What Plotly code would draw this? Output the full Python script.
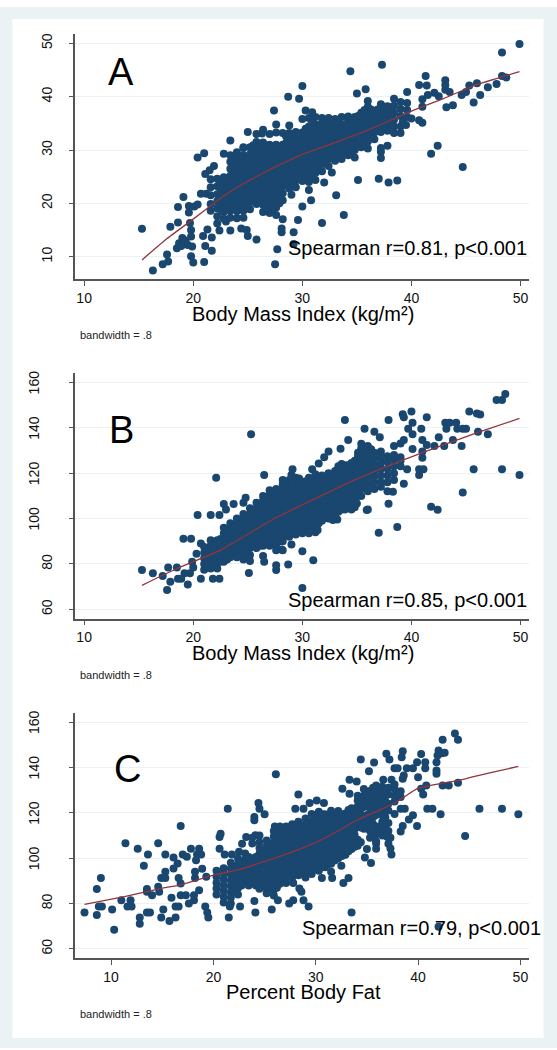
import plotly.graph_objects as go

W, H = 557, 1050
NAVY = "#1a476f"
CRAN = "#90353b"
BAND = "#eaf2f3"
FONT = "Liberation Sans, Arial, sans-serif"

# ---------- Panel A: BMI vs percent body fat ----------
A_edge_x = [15.3,16.3,17.2,17.7,17.6,17.9,18.6,18.6,19.1,18.5,18.7,19.2,19.5,19.7,19.8,19.8,19.8,20.0,19.6,19.6,
            20.4,21.0,21.0,21.7,21.1,20.9,21.7,21.3,22.4,23.4,23.4,25.0,25.8,25.0,24.4,27.5,27.7,28.1,28.1,29.2,
            29.2,28.2,29.6,29.0,30.0,30.8,30.6,31.8,33.8,33.1,32.0,32.7,35.1,37.0,37.9,38.7,44.7,41.8,42.4,49.9,
            48.3,37.3,34.4,30.0,28.7,29.7,27.4,27.6,35.0,35.8,39.6,41.3,40.7,41.4,43.1,43.1,43.1,48.3,48.7,47.8,
            47.0,46.0,45.3,46.3,45.7,44.6,45.0,43.8,43.2,43.5,42.1,42.5,41.5,41.0,41.0,41.0,40.7,40.0,20.1,20.7,
            21.2,19.3,19.0,18.9,19.9,21.5,21.9,21.1,20.4,24.1,24.6,24.9,23.0,22.9,39.2,39.5,30.3,30.9,26.3]
A_edge_y = [15.25,7.4,8.6,9.1,10.4,15.6,16.4,19.3,21.2,11.6,12.5,13.1,12.2,16.3,15.0,13.8,10.1,8.9,18.3,19.5,
            28.6,29.4,9.0,11.1,12.0,13.9,13.6,15.1,14.9,14.9,31.8,33.4,13.2,13.9,15.3,8.6,11.4,15.3,14.6,14.6,
            12.4,17.0,16.9,21.6,19.4,20.6,22.5,16.3,17.8,21.5,23.9,25.8,24.4,24.6,23.9,24.3,26.8,29.3,30.8,49.9,
            48.3,46.0,44.75,42.0,40.0,39.6,37.4,34.8,40.6,41.4,40.9,43.9,42.2,42.1,43.1,42.2,41.3,43.9,43.6,42.4,
            41.75,42.5,42.1,40.3,38.9,40.3,40.9,38.4,38.0,40.9,40.75,40.1,40.3,39.5,38.1,35.1,35.6,35.9,19.4,21.8,
            21.8,12.9,13.5,12.0,11.9,26.2,27.0,25.5,19.8,27.9,30.5,15.0,16.6,19.0,35.2,34.7,37.4,37.1,33.1]

A_col_x = [21.6,22.2,22.8,23.4,24.0,24.6,25.2,25.8,26.4,27.0,27.6,28.2,28.8,29.4,30.0,30.6,31.2,31.8,32.4,33.0,
           33.6,34.2,34.8,35.4,36.0,36.6,37.2,37.8,38.4,39.0,39.6]
A_col_y = [
    [18.6,19.9,21.5,23.0,24.5],
    [16.2,17.6,19.1,20.4,21.7,23.2,24.6],
    [17.1,18.4,19.7,21.0,22.3,23.6,24.9,29.3],
    [17.3,18.6,20.0,21.3,22.6,23.9,25.2,26.5,27.8,29.0],
    [17.2,18.5,19.7,21.0,22.3,23.6,24.9,26.2,27.5,28.8,29.6],
    [17.3,18.6,19.9,21.2,22.5,23.8,25.1,26.4,27.7,29.0,30.4],
    [18.9,20.2,21.5,22.8,24.0,25.3,26.6,27.9,29.2,30.5],
    [19.9,21.2,22.5,23.7,25.0,26.3,27.6,28.9,30.2,31.5,33.0],
    [18.4,19.7,21.0,22.3,23.6,24.9,26.2,27.5,28.8,30.1,31.4,33.8],
    [18.2,19.5,20.8,22.1,23.4,24.7,26.0,27.3,28.6,29.9,31.0,33.0],
    [17.8,19.2,20.6,21.9,23.2,24.5,25.8,27.1,28.4,29.7,31.0,33.3],
    [20.6,21.9,23.2,24.5,25.8,27.1,28.4,29.7,31.0,33.2],
    [22.8,24.1,25.4,26.7,28.0,29.3,30.6,31.9,33.2,34.6],
    [23.0,24.3,25.6,26.9,28.2,29.5,30.8,32.1,33.4],
    [24.2,25.5,26.8,28.1,29.4,30.7,32.0,33.3,35.8],
    [24.0,25.3,26.6,27.9,29.2,30.5,31.8,33.1,34.4,36.0],
    [24.4,25.7,27.0,28.3,29.6,30.9,32.2,33.5,34.8,36.2],
    [26.0,27.3,28.6,29.9,31.2,32.5,33.8,35.1,36.0],
    [27.0,28.3,29.6,30.9,32.2,33.5,34.8,36.0],
    [28.0,29.3,30.6,31.9,33.2,34.5,35.8],
    [28.3,29.6,30.9,32.2,33.5,34.8,36.2],
    [29.0,30.3,31.6,32.9,34.2,35.5,36.3],
    [28.6,30.0,31.3,32.6,33.9,35.2,36.2],
    [30.5,31.8,33.1,34.4,35.7,37.0],
    [30.3,31.6,32.9,34.2,35.5,36.8,38.1,39.2],
    [32.0,33.3,34.6,35.9,37.2],
    [28.5,29.7,30.4,33.4,34.7,36.0,37.3,38.6],
    [30.8,33.6,34.9,36.2,37.5,38.2],
    [33.2,34.4,35.7,37.0,38.3,39.6],
    [33.2,34.4,36.4,37.7,39.0],
    [36.2,37.5,38.8],
]
A_mid_x = [22.5,23.1,23.7,24.3,24.9,25.5,26.1,26.7,27.3,27.9,28.5,29.1,29.7,30.3,30.9,31.5,32.1,32.7,33.3,33.9,
           34.5,35.1,35.7,36.3,36.9,37.5,38.1]
A_mid_y = [
    [18.9,20.2,21.5,22.8,24.1],
    [18.9,20.2,21.5,22.8,24.1],
    [19.1,20.4,21.7,23.0,24.3,25.6,26.9,28.2],
    [19.1,20.4,21.7,23.0,24.3,25.6,26.9,28.2],
    [19.6,20.9,22.2,23.5,24.8,26.1,27.4,28.7],
    [20.6,21.9,23.2,24.4,25.7,27.0,28.3,29.6,30.9],
    [20.6,21.9,23.1,24.4,25.7,27.0,28.3,29.6,30.9],
    [19.1,20.4,21.7,23.0,24.3,25.6,26.9,28.2,29.5,30.8],
    [18.9,20.2,21.5,22.8,24.1,25.4,26.7,28.0,29.3,30.6],
    [20.0,21.3,22.6,23.9,25.2,26.5,27.8,29.1,30.4],
    [23.5,24.8,26.1,27.4,28.7,30.0,31.3,32.6],
    [23.7,25.0,26.3,27.6,28.9,30.2,31.5,32.8],
    [24.9,26.2,27.5,28.8,30.1,31.4,32.7],
    [24.9,26.2,27.5,28.8,30.1,31.4,32.7,34.0],
    [25.0,26.3,27.6,28.9,30.2,31.5,32.8,34.1,35.3],
    [26.6,27.9,29.2,30.5,31.8,33.1,34.4],
    [27.7,29.0,30.3,31.6,32.9,34.2,35.4],
    [28.6,29.9,31.2,32.5,33.8,35.1],
    [28.9,30.2,31.5,32.8,34.1,35.4],
    [29.6,30.9,32.2,33.5,34.8],
    [29.6,30.9,32.2,33.5,34.8,35.8],
    [31.2,32.5,33.8,35.1,36.4],
    [31.1,32.4,33.7,35.0,36.3,37.5],
    [32.6,33.9,35.2,36.5,37.6],
    [33.7,35.0,36.3,37.6],
    [34.2,35.5,36.8,38.0],
    [34.1,35.4,36.7,38.0],
]
A_fit_x = [15.3,17.6,19.9,21.8,23.1,24.8,26.4,28.4,30.4,33.0,35.6,38.8,40.1,43.0,45.9,49.9]
A_fit_y = [9.4,13.4,16.9,19.9,21.8,23.9,25.7,27.7,29.5,31.4,33.4,36.2,37.4,39.7,42.2,44.7]

# ---------- Panel B: BMI vs waist ----------
B_edge_x = [15.3,16.3,17.2,17.6,17.9,17.7,18.5,18.6,18.9,19.5,19.2,19.7,20.0,19.1,19.8,20.4,21.6,22.4,22.1,20.7,
            21.8,22.4,22.8,23.0,23.7,24.6,24.8,25.3,26.5,25.1,25.2,25.2,26.4,26.5,27.6,27.6,28.7,28.1,29.0,30.0,
            31.0,30.0,31.4,29.1,29.0,29.7,30.9,31.5,32.0,32.4,33.5,33.9,34.2,35.7,36.6,37.1,37.9,39.2,39.3,40.0,
            40.1,39.7,40.1,40.9,41.4,40.1,39.3,39.0,38.4,41.0,41.4,41.0,41.0,42.1,42.5,43.0,43.1,43.5,43.2,44.1,
            44.2,44.7,45.0,43.8,44.6,45.3,46.0,46.3,46.1,47.0,47.8,48.3,48.6,45.7,48.3,49.9,44.7,41.8,42.4,37.0,
            38.7,37.9,39.3,38.3,39.6,40.7,40.7,41.1,36.0,35.9,35.0,34.5,33.9,33.2,32.8,20.3,20.7,19.9]
B_edge_y = [77.3,75.9,74.7,68.5,72.2,78.5,78.5,73.5,73.5,71.0,75.9,75.9,78.5,91.1,91.1,101.6,101.6,101.6,118.0,73.5,
            73.5,73.5,106.4,104.0,106.4,107.0,109.2,137.1,119.2,76.0,81.3,84.0,83.5,81.0,79.5,77.3,79.8,86.4,88.6,85.6,
            81.6,69.4,95.0,121.7,119.2,117.7,121.7,124.3,127.0,129.5,130.8,143.4,134.6,139.6,138.3,135.8,143.4,146.0,144.6,147.2,
            142.2,139.6,137.1,139.6,144.6,130.6,134.6,133.1,132.0,134.6,132.4,129.5,126.8,132.0,135.8,132.0,142.2,142.2,139.6,142.2,
            139.6,139.6,139.6,134.6,132.0,147.2,146.3,145.9,138.3,137.1,152.2,152.2,154.9,121.7,121.7,119.2,111.5,105.2,103.9,93.8,
            96.3,106.5,115.4,111.8,121.7,119.2,121.7,121.7,104.0,103.8,106.7,104.0,104.0,99.6,99.4,84.5,89.0,81.0]

B_col_x = [21.0,21.6,22.2,22.8,23.4,24.0,24.6,25.2,25.8,26.4,27.0,27.6,28.2,28.8,29.4,30.0,30.6,31.2,31.8,32.4,
           33.0,33.6,34.2,34.8,35.4,36.0,36.6,37.2,37.8,38.4,39.0]
B_col_y = [
    [77.5,80.0,82.5,85.0,87.5],
    [78.0,80.5,83.0,85.5,88.0,90.5],
    [78.0,80.5,83.0,85.5,88.0,90.5],
    [81.0,83.5,86.0,88.5,91.0,93.5,96.0],
    [83.0,85.5,88.0,90.5,93.0,95.5,98.0],
    [83.0,85.5,88.0,90.5,93.0,95.5,98.0,100.0],
    [82.0,84.5,87.0,89.5,92.0,94.5,97.0,99.5,102.0],
    [87.0,89.5,92.0,94.5,97.0,99.5,102.0,104.5],
    [87.0,89.5,92.0,94.5,97.0,99.5,102.0,104.5,107.0],
    [88.0,90.5,93.0,95.5,98.0,100.5,103.0,105.5,108.0,110.0],
    [88.0,90.5,93.0,95.5,98.0,100.5,103.0,105.5,108.0,110.5,112.5],
    [86.0,88.5,91.0,93.5,96.0,98.5,101.0,103.5,106.0,108.5,111.0,113.0],
    [86.0,90.0,92.5,95.0,97.5,100.0,102.5,105.0,107.5,110.0,112.5,115.0,117.0],
    [92.0,94.5,97.0,99.5,102.0,104.5,107.0,109.5,112.0,114.5,117.0],
    [93.0,95.5,98.0,100.5,103.0,105.5,108.0,110.5,113.0,115.5,118.0],
    [93.5,96.0,98.5,101.0,103.5,106.0,108.5,111.0,113.5,116.0],
    [93.5,96.0,98.5,101.0,103.5,106.0,108.5,111.0,113.5,116.0,118.0],
    [94.0,97.0,99.5,102.0,104.5,107.0,109.5,112.0,114.5,117.0,119.5],
    [99.0,101.5,104.0,106.5,109.0,111.5,114.0,116.5,119.0],
    [100.0,102.5,105.0,107.5,110.0,112.5,115.0,117.5,120.0],
    [101.0,103.5,106.0,108.5,111.0,113.5,116.0,118.5,121.0],
    [104.0,106.5,109.0,111.5,114.0,116.5,119.0,121.5,124.0],
    [106.0,108.5,111.0,113.5,116.0,118.5,121.0,123.5],
    [105.0,108.0,110.5,113.0,115.5,118.0,120.5,123.0,125.5],
    [110.0,113.0,116.0,118.5,121.0,123.5,126.0,128.5,131.0,133.0],
    [112.0,118.0,122.0,125.0,127.5,130.0,132.0],
    [113.0,116.0,118.5,121.0,123.5,126.5,129.0],
    [114.0,116.0,119.0,122.0,124.5,127.0,129.5],
    [112.0,116.0,119.0,122.0,125.0,127.5],
    [117.0,120.0,123.0,126.0,128.0],
    [123.0,125.5,127.0],
]
B_mid_x = [21.3,21.9,22.5,23.1,23.7,24.3,24.9,25.5,26.1,26.7,27.3,27.9,28.5,29.1,29.7,30.3,30.9,31.5,32.1,32.7,
           33.3,33.9,34.5,35.1,35.7,36.3]
B_mid_y = [
    [79.0,81.5,84.0,86.5],
    [79.0,81.5,84.0,86.5,89.0],
    [81.0,83.5,86.0,88.5,91.0],
    [82.0,84.5,87.0,89.5,92.0,94.5],
    [84.0,86.5,89.0,91.5,94.0,96.5],
    [84.0,86.5,89.0,91.5,94.0,96.5,99.0],
    [85.5,88.0,90.5,93.0,95.5,98.0,100.5],
    [88.0,90.5,93.0,95.5,98.0,100.5,103.0],
    [88.0,90.5,93.0,95.5,98.0,100.5,103.0,105.5],
    [89.0,91.5,94.0,96.5,99.0,101.5,104.0,106.5,109.0],
    [89.0,91.5,94.0,96.5,99.0,101.5,104.0,106.5,109.0,111.5],
    [90.0,92.5,95.0,97.5,100.0,102.5,105.0,107.5,110.0,112.5],
    [93.0,95.5,98.0,100.5,103.0,105.5,108.0,110.5,113.0,115.5],
    [94.0,96.5,99.0,101.5,104.0,106.5,109.0,111.5,114.0,116.5],
    [94.5,97.0,99.5,102.0,104.5,107.0,109.5,112.0,114.5,117.0],
    [94.5,97.0,99.5,102.0,104.5,107.0,109.5,112.0,114.5,116.5],
    [95.0,97.5,100.0,102.5,105.0,107.5,110.0,112.5,115.0,117.5],
    [98.0,100.5,103.0,105.5,108.0,110.5,113.0,115.5,118.0],
    [100.5,103.0,105.5,108.0,110.5,113.0,115.5,118.0],
    [102.0,104.5,107.0,109.5,112.0,114.5,117.0,119.5],
    [103.0,105.5,108.0,110.5,113.0,115.5,118.0,120.5,123.0],
    [106.0,108.5,111.0,113.5,116.0,118.5,121.0,123.5],
    [107.0,109.5,112.0,114.5,117.0,119.5,122.0,124.5],
    [110.0,112.5,115.0,117.5,120.0,122.5,125.0,127.5,129.0],
    [114.0,116.5,119.0,121.0,123.5,126.0,128.5,131.0],
    [115.0,120.0,123.0,125.5,128.0,130.5],
]
B_fit_x = [15.3,18.5,22.5,27.35,34.4,38.8,43.0,46.3,49.9]
B_fit_y = [70.6,78.0,86.1,99.8,116.2,125.0,132.6,138.3,144.1]

# ---------- Panel C: percent body fat vs waist ----------
C_edge_x = [7.4,8.6,8.6,9.0,8.8,9.1,10.1,10.3,11.0,11.4,11.9,11.6,12.0,12.6,12.8,12.8,13.2,13.6,13.5,13.5,
            14.0,13.5,13.8,14.6,14.6,14.9,14.9,15.1,15.3,15.3,15.7,15.3,14.7,15.9,16.1,16.1,16.3,16.5,16.6,16.3,
            16.6,16.8,17.0,17.4,17.8,16.8,16.8,17.3,17.6,18.2,18.2,18.1,18.1,18.3,18.4,18.6,18.8,18.9,18.6,19.2,
            19.4,19.5,19.3,20.6,20.6,20.7,21.4,21.5,21.1,21.8,22.5,24.0,24.1,22.6,21.6,25.7,26.3,27.4,27.8,28.8,
            29.3,33.5,42.0,28.6,28.4,27.1,27.8,30.6,31.6,32.7,33.2,32.5,35.4,34.8,37.4,35.9,37.3,37.1,39.9,44.6,
            38.5,38.3,39.1,39.5,42.2,40.9,41.4,46.0,48.2,49.8,38.7,38.3,43.9,43.0,42.4,40.5,40.3,40.8,40.0,41.8,
            41.8,40.7,40.7,41.8,39.9,39.5,38.9,37.7,38.0,38.5,38.6,37.4,36.6,35.2,34.4,35.7,37.2,36.9,38.4,38.5,
            40.3,41.9,42.0,42.3,42.6,42.4,43.6,43.9,26.1,33.3,34.0,32.6,33.3,28.3,24.4,24.5,25.0,24.0,24.0,28.0,
            28.8,29.4,30.1,30.8,26.0,24.1,23.2,22.8,35.9,37.3,37.0,35.0]
C_edge_y = [76.1,74.9,86.4,91.3,78.7,78.7,77.4,68.5,81.4,106.6,81.4,78.7,78.7,104.1,73.8,71.1,96.6,101.6,86.4,85.2,
            83.7,76.1,76.1,106.6,87.4,91.3,73.8,77.4,94.0,101.6,72.3,91.3,85.2,82.5,100.3,95.4,78.7,97.6,91.3,73.8,
            78.7,114.2,101.6,100.6,104.1,88.8,83.7,83.7,80.0,94.0,91.3,81.5,83.7,99.1,101.6,104.1,101.6,95.3,85.9,78.7,
            76.1,73.8,91.8,104.1,109.3,110.8,121.8,73.8,101.6,101.6,102.8,81.1,76.1,78.7,78.7,77.4,81.5,80.0,81.5,81.4,
            78.7,76.1,69.8,85.2,86.6,89.1,89.1,91.3,91.3,89.1,91.3,96.6,97.9,100.3,101.6,104.1,104.2,106.4,114.2,109.8,
            114.2,111.8,117.0,118.9,119.3,121.8,121.8,121.8,121.8,119.3,121.8,121.8,133.2,132.0,132.0,128.1,130.6,132.0,135.7,137.2,
            138.6,139.6,142.3,142.3,142.3,139.6,139.6,139.6,139.6,135.0,136.4,134.5,134.5,138.3,143.5,142.1,143.5,146.0,144.5,147.1,
            145.9,145.2,147.4,146.2,146.4,152.2,154.9,152.2,137.0,134.5,133.8,130.6,128.4,128.1,124.3,121.8,119.3,118.1,116.7,121.8,
            121.8,124.3,125.4,124.3,114.0,110.1,109.3,106.4,106.5,109.0,109.3,104.0]

C_col_x = [20.3,21.0,21.7,22.4,23.1,23.8,24.5,25.2,25.9,26.5,27.1,27.7,28.3,29.0,29.6,30.3,30.9,31.5,32.2,32.9,
           33.5,34.1,34.7,35.3,35.9,36.5,37.1,37.7,38.3]
C_col_y = [
    [84.0,86.6,89.2,91.8,94.4],
    [80.5,83.0,85.6,88.2,90.8,93.4,95.6],
    [80.0,82.5,85.0,87.6,90.2,92.8,95.4,98.0],
    [84.0,86.8,89.4,92.0,94.6,97.2,99.8],
    [89.0,91.6,94.2,96.8,99.4,102.0],
    [89.5,92.0,94.6,97.2,99.8,106.5,109.0],
    [86.5,89.1,91.7,94.3,96.9,99.5,102.0,104.5,107.0,110.0],
    [84.5,87.0,89.6,92.2,94.8,97.4,100.0,102.6,105.2,107.8],
    [83.5,86.1,88.7,91.3,93.9,96.5,99.1,101.7,104.3,106.9,109.5,112.0],
    [88.7,91.3,93.9,96.5,99.1,101.7,104.3,106.9,109.5,112.1,114.0],
    [91.0,93.6,96.2,98.8,101.4,104.0,106.6,109.2,111.8,114.0],
    [91.5,94.1,96.7,99.3,101.9,104.5,107.1,109.7,112.3,114.9],
    [92.5,95.1,97.7,100.3,102.9,105.5,108.1,110.7,113.3,116.0],
    [91.5,94.1,96.7,99.3,101.9,104.5,107.1,109.7,112.3,114.9,117.5],
    [93.0,95.6,98.2,100.8,103.4,106.0,108.6,111.2,113.8,116.4,119.5],
    [94.5,97.1,99.7,102.3,104.9,107.5,110.1,112.7,115.3,117.9,120.5],
    [96.0,98.6,101.2,103.8,106.4,109.0,111.6,114.2,116.8,119.4],
    [94.0,97.5,100.1,102.7,105.3,107.9,110.5,113.1,115.7,118.3,120.9],
    [100.0,102.6,105.2,107.8,110.4,113.0,115.6,118.2,120.8],
    [101.5,104.1,106.7,109.3,111.9,114.5,117.1,119.7],
    [104.0,106.6,109.2,111.8,114.4,117.0,119.6,122.0],
    [105.5,108.1,115.0,117.6,120.2,122.8,125.4,127.5],
    [113.0,115.5,118.0,122.5,125.0,127.5,130.5],
    [109.0,112.0,117.0,120.0,124.5,127.0,129.6],
    [107.5,110.5,113.5,119.0,122.5,125.0,127.6,130.0,132.0],
    [110.0,116.0,119.0,121.5,124.0,126.5,129.0,131.5],
    [112.0,115.5,121.0,124.0,128.0,131.0],
    [119.5,125.0,127.5,130.5,132.5],
    [127.0,129.5],
]
C_mid_x = [22.05,22.75,23.45,24.15,24.85,25.55,26.2,26.8,27.4,28.0,28.65,29.3,29.95,30.6,31.2,31.85,32.55,33.2,33.8,
           34.4,35.0,35.6,36.2,36.8]
C_mid_y = [
    [85.5,88.0,90.7,93.3,96.0],
    [88.0,90.5,93.0,95.5,98.0],
    [88.0,90.5,93.0,95.5,98.0,100.5],
    [88.0,90.5,93.0,95.5,98.0,100.5],
    [87.5,90.4,93.0,95.6,98.2,100.8,103.3],
    [86.5,88.3,90.9,93.5,96.1,98.7,101.3,103.9,106.5],
    [87.0,90.0,92.6,95.2,97.8,100.4,103.0,105.6,108.2,110.8],
    [92.3,94.9,97.5,100.1,102.7,105.3,107.9,110.5],
    [92.8,95.4,98.0,100.6,103.2,105.8,108.4,111.0,113.6],
    [93.8,96.4,99.0,101.6,104.2,106.8,109.4,112.0,114.6],
    [93.0,95.6,98.2,100.8,103.4,106.0,108.6,111.2,113.8],
    [94.3,96.9,99.5,102.1,104.7,107.3,109.9,112.5,115.1],
    [95.0,97.6,100.2,102.8,105.4,108.0,110.6,113.2,115.8,118.4],
    [96.0,98.6,101.2,103.8,106.4,109.0,111.6,114.2,116.8,119.4],
    [97.3,99.9,102.5,105.1,107.7,110.3,112.9,115.5,118.1],
    [99.0,101.6,104.2,106.8,109.4,112.0,114.6,117.2,119.8],
    [101.0,103.6,106.2,108.8,111.4,114.0,116.6,119.2],
    [103.0,105.6,108.2,110.8,113.4,116.0,118.6,121.2],
    [105.0,107.6,110.2,112.8,115.4,118.0,120.6],
    [107.0,113.5,116.3,119.0,121.8,124.5],
    [114.0,116.5,119.0,123.0,126.0,128.5],
    [115.0,118.0,121.0,123.5,126.0,128.5,131.0],
    [111.0,114.0,120.0,122.6,125.2,127.8,130.5],
    [113.0,118.0,122.5,125.0,127.5,130.0],
]
C_fit_x = [7.4,11.3,14.8,16.7,20.0,22.6,26.5,29.1,31.4,34.0,36.3,38.1,39.9,41.1,43.9,47.0,49.8]
C_fit_y = [79.6,83.0,86.6,88.1,92.5,95.1,100.8,105.2,110.0,116.7,121.3,125.4,130.6,132.0,134.2,137.6,140.4]

x_ticks = [10,20,30,40,50]
A_yticks = [10,20,30,40,50]
BC_yticks = [60,80,100,120,140,160]
letters = ["A","B","C"]
spearman = ["Spearman r=0.81, p<0.001","Spearman r=0.85, p<0.001","Spearman r=0.79, p<0.001"]
xtitles = ["Body Mass Index (kg/m²)","Body Mass Index (kg/m²)","Percent Body Fat"]
note = "bandwidth = .8"


def flat(edge_x, edge_y, col_x, col_y, mid_x, mid_y):
    xs = list(edge_x)
    ys = list(edge_y)
    for cx, cy in list(zip(col_x, col_y)) + list(zip(mid_x, mid_y)):
        xs += [cx] * len(cy)
        ys += cy
    return xs, ys


panels = [
    dict(pts=flat(A_edge_x, A_edge_y, A_col_x, A_col_y, A_mid_x, A_mid_y), fit=(A_fit_x, A_fit_y), top=34.3, bot=279.3,
         xr=[9.19, 50.8], yr=[5.76, 51.7], yt=A_yticks, letter_px=(121, 72), sp_px=(528, 248), title_px=314, note_px=335),
    dict(pts=flat(B_edge_x, B_edge_y, B_col_x, B_col_y, B_mid_x, B_mid_y), fit=(B_fit_x, B_fit_y), top=373.3, bot=618.7,
         xr=[9.19, 50.8], yr=[55.9, 164.0], yt=BC_yticks, letter_px=(121, 430), sp_px=(528, 600), title_px=653, note_px=675),
    dict(pts=flat(C_edge_x, C_edge_y, C_col_x, C_col_y, C_mid_x, C_mid_y), fit=(C_fit_x, C_fit_y), top=712.7, bot=958.0,
         xr=[6.5, 50.87], yr=[56.0, 164.1], yt=BC_yticks, letter_px=(127, 769), sp_px=(542, 928), title_px=992, note_px=1014),
]


def px(x):
    return x / W


def py(y):
    return 1 - y / H


fig = go.Figure()
ann = []
tick_font = dict(size=14, color="#111111", family=FONT)
for i, p in enumerate(panels):
    n = "" if i == 0 else str(i + 1)
    fig.add_trace(go.Scatter(x=p["pts"][0], y=p["pts"][1], mode="markers", xaxis="x" + n, yaxis="y" + n,
                             marker=dict(color=NAVY, size=8, line=dict(width=0)), showlegend=False, cliponaxis=False))
    fig.add_trace(go.Scatter(x=p["fit"][0], y=p["fit"][1], mode="lines", xaxis="x" + n, yaxis="y" + n,
                             line=dict(color=CRAN, width=1.3, shape="spline", smoothing=0.3), showlegend=False))
    ytext = [str(v) if v < 100 else "" for v in p["yt"]]
    fig.update_layout({
        "xaxis" + n: dict(domain=[px(75.3), px(529.3)], range=p["xr"], anchor="y" + n, tickvals=x_ticks,
                          showgrid=False, zeroline=False, showline=True, linecolor="#555555", linewidth=1.5,
                          ticks="outside", ticklen=5, tickwidth=1, tickcolor="#555555", tickfont=tick_font),
        "yaxis" + n: dict(domain=[py(p["bot"]), py(p["top"])], range=p["yr"], anchor="x" + n, tickvals=p["yt"],
                          ticktext=ytext, tickangle=-90, ticklabelstandoff=11, showgrid=True, gridcolor=BAND, gridwidth=1,
                          zeroline=False, showline=True, linecolor="#555555", linewidth=1.5, ticks="outside", ticklen=5,
                          tickwidth=1, tickcolor="#555555", tickfont=tick_font),
    })
    for v in p["yt"]:
        if v >= 100:
            ann.append(dict(text=str(v), x=px(34), y=v, xref="paper", yref="y" + n, showarrow=False, textangle=-90,
                            xanchor="center", yanchor="middle", font=tick_font))
    ann.append(dict(text=letters[i], x=px(p["letter_px"][0]), y=py(p["letter_px"][1]), xref="paper", yref="paper",
                    showarrow=False, xanchor="center", yanchor="middle", font=dict(size=38, color="black", family=FONT)))
    ann.append(dict(text=spearman[i], x=px(p["sp_px"][0]), y=py(p["sp_px"][1]), xref="paper", yref="paper",
                    showarrow=False, xanchor="right", yanchor="middle", borderpad=0, font=dict(size=20, color="black", family=FONT)))
    ann.append(dict(text=xtitles[i], x=px(303), y=py(p["title_px"]), xref="paper", yref="paper",
                    showarrow=False, xanchor="center", yanchor="middle", font=dict(size=20, color="black", family=FONT)))
    ann.append(dict(text=note, x=px(78), y=py(p["note_px"]), xref="paper", yref="paper",
                    showarrow=False, xanchor="left", yanchor="middle", font=dict(size=11, color="#222222", family=FONT)))

shapes = [
    dict(type="rect", xref="paper", yref="paper", x0=0, x1=1, y0=py(1048), y1=py(7), fillcolor=BAND, line=dict(width=0), layer="below"),
    dict(type="rect", xref="paper", yref="paper", x0=px(12.4), x1=px(543.5), y0=py(1038), y1=py(19), fillcolor="white", line=dict(width=0), layer="below"),
]
fig.update_layout(width=W, height=H, autosize=False, margin=dict(l=0, r=0, t=0, b=0), paper_bgcolor="white",
                  plot_bgcolor="rgba(0,0,0,0)", shapes=shapes, annotations=ann, showlegend=False,
                  font=dict(family=FONT))
fig.write_html("out.html", config=dict(displayModeBar=False), post_script="document.body.style.margin='0';")
